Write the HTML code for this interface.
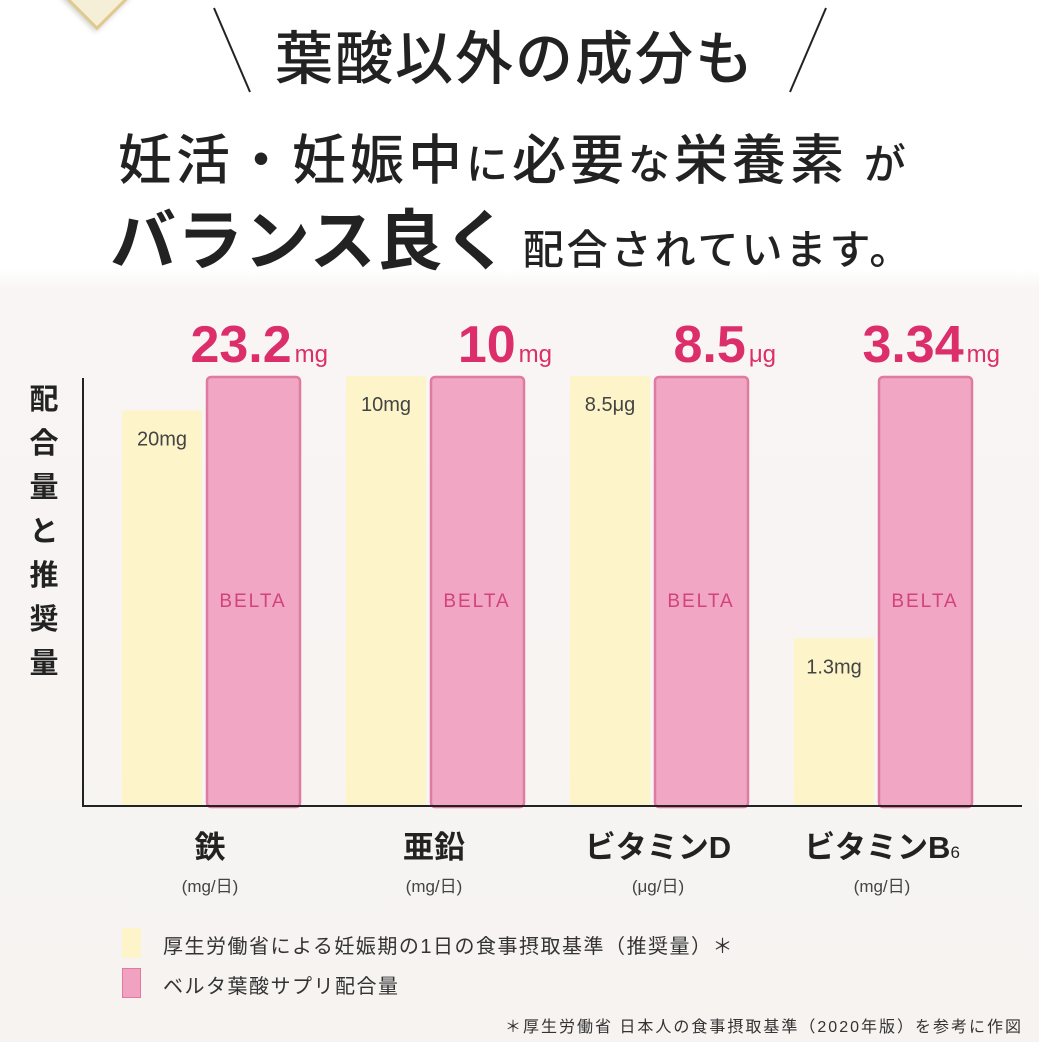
<!DOCTYPE html>
<html><head><meta charset="utf-8">
<style>
body{margin:0;width:1039px;height:1042px;overflow:hidden;font-family:"Liberation Sans","Noto Sans CJK JP",sans-serif;color:#222;position:relative;background:linear-gradient(#fff 0,#fff 270px,#f8f5f4 290px,#f6f3f1 1042px);}
.abs{position:absolute;white-space:nowrap;}
</style></head><body>
<div class="abs" style="left:72px;top:-30px;width:44px;height:44px;transform:rotate(45deg);background:#f6efd8;border:3px solid #e0c98c;box-shadow:0 2px 6px rgba(0,0,0,.2)"></div>
<svg class="abs" style="left:0;top:0" width="1039" height="100">
<line x1="214" y1="8" x2="250" y2="92" stroke="#222" stroke-width="2"/>
<line x1="826" y1="8" x2="790" y2="92" stroke="#222" stroke-width="2"/>
</svg>
<div class="abs" style="left:275px;top:12px;font-size:58px;font-weight:500;letter-spacing:2px">葉酸以外の成分も</div>
<div class="abs" style="left:118px;top:116px;font-size:54px;font-weight:500;letter-spacing:4px">妊活・妊娠中<span style="font-size:42px">に</span>必要<span style="font-size:42px">な</span>栄養素<span style="font-size:42px"> が</span></div>
<div class="abs" style="left:110px;top:188px;font-size:66px;font-weight:bold;letter-spacing:1px">バランス良く<span style="font-size:41px;font-weight:500;margin-left:12px;letter-spacing:3px">配合されています。</span></div>

<div class="abs" style="left:26px;top:378px;width:36px;font-size:29px;font-weight:bold;line-height:44px;white-space:normal;text-align:center">配合量と推奨量</div>

<svg id="chart" class="abs" style="left:0;top:0" width="1039" height="1042"></svg>

<div class="abs" style="left:122px;top:928px;width:19px;height:30px;background:#fdf5c9"></div>
<div class="abs" style="left:163px;top:930px;font-size:20px;letter-spacing:1.5px;color:#333">厚生労働省による妊娠期の1日の食事摂取基準（推奨量）＊</div>
<div class="abs" style="left:122px;top:968px;width:17px;height:28px;background:#f1a2c0;border:1px solid #e07aa0"></div>
<div class="abs" style="left:163px;top:970px;font-size:20px;letter-spacing:1.5px;color:#333">ベルタ葉酸サプリ配合量</div>
<div class="abs" style="right:16px;top:1013px;font-size:16px;letter-spacing:2px;color:#333">＊厚生労働省 日本人の食事摂取基準（2020年版）を参考に作図</div>

<script>
const categories = ["鉄","亜鉛","ビタミンD","ビタミンB"];
const units = ["(mg/日)","(mg/日)","(μg/日)","(mg/日)"];
const beltaLabels = ["23.2","10","8.5","3.34"];
const beltaUnits = ["mg","mg","μg","mg"];
const recLabels = ["20mg","10mg","8.5μg","1.3mg"];
const beltaPercent = [100,100,100,100];
const recPercent = [92,100,100,39];

const svg = document.getElementById('chart');
const NS = 'http://www.w3.org/2000/svg';
const baseY = 806, topY = 376, plotH = baseY - topY;
const groupX0 = 122, groupStep = 224;
function y(p){ return baseY - p/100*plotH; }
function gx(i){ return groupX0 + i*groupStep; }
function mk(tag, attrs, text){
  const e = document.createElementNS(NS, tag);
  for (const k in attrs) e.setAttribute(k, attrs[k]);
  if (text !== undefined) e.textContent = text;
  svg.appendChild(e);
  return e;
}
categories.forEach((c,i)=>{
  const x = gx(i);
  const r = mk('rect',{x:x,y:y(recPercent[i]),width:80,height:baseY-y(recPercent[i]),fill:'#fdf5c9'});
  
  
  const rl = mk('text',{x:x+40,y:y(recPercent[i])+35,'text-anchor':'middle','font-size':20,fill:'#444'},recLabels[i]);
  
  
  const bx = x+85, bt = y(beltaPercent[i]);
  const b = mk('rect',{x:bx,y:bt+1,width:93,height:baseY-bt,rx:4,fill:'#f1a7c4',stroke:'#e07aa0','stroke-width':2.5});
  
  
  const bl = mk('text',{x:bx+46,y:607,'text-anchor':'middle','font-size':19,fill:'#d2427b','letter-spacing':2},'BELTA');
  
  
  const v = mk('text',{x:bx+121,y:bt-14,'text-anchor':'end',fill:'#dc2e6a','font-weight':'bold'});
  
  
  const t1 = document.createElementNS(NS,'tspan'); t1.setAttribute('font-size','52'); t1.textContent = beltaLabels[i];
  const t2 = document.createElementNS(NS,'tspan'); t2.setAttribute('font-size','24'); t2.setAttribute('dx','3'); t2.setAttribute('font-weight','normal'); t2.textContent = beltaUnits[i];
  v.appendChild(t1); v.appendChild(t2);
  const cx = x+88;
  const cl = mk('text',{x:cx,y:858,'text-anchor':'middle','font-size':31,'font-weight':'bold',fill:'#222'},categories[i]);
  if (i===3){ const s=document.createElementNS(NS,'tspan'); s.setAttribute('font-size','17'); s.setAttribute('font-weight','normal'); s.textContent='6'; cl.appendChild(s); }
  
  
  const ul = mk('text',{x:cx,y:892,'text-anchor':'middle','font-size':17,fill:'#444'},units[i]);
  
  
});
const ya = mk('line',{x1:83,y1:378,x2:83,y2:baseY,stroke:'#222','stroke-width':2});


const xa = mk('line',{x1:82,y1:baseY,x2:1022,y2:baseY,stroke:'#222','stroke-width':2});


</script>
</body></html>
